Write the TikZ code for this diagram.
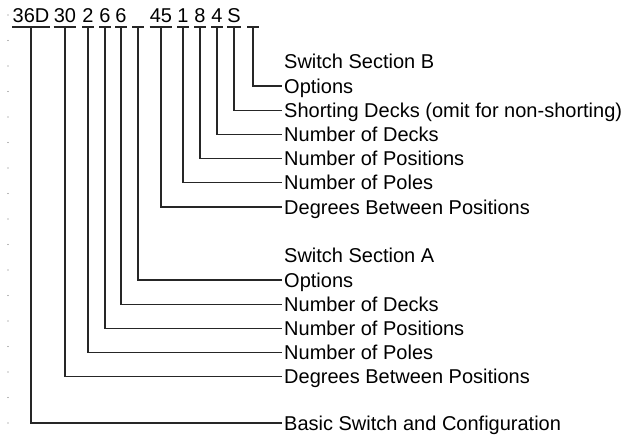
\documentclass[tikz,border=0pt]{standalone}
\usepackage{fontspec}
\setmainfont{Liberation Sans}
\begin{document}
\begin{tikzpicture}[x=1pt,y=-1pt,
	font=\fontsize{20}{24}\selectfont,
	code/.style={anchor=south, inner xsep=0pt, inner ysep=4pt, text height=14.3pt, text depth=0pt},
	txt/.style={anchor=west, inner xsep=2pt, inner ysep=0pt, text height=14.3pt, text depth=0pt},
	wire/.style={line width=1.3pt, draw=black!85}]
	\useasboundingbox (0,0) rectangle (621,434);
	% margin ticks
	\foreach \k in {0,...,16}
		\fill[black!55] (8,15+25.5*\k) circle (0.6);
	% part number
	\node[code] (CA) at (31,27) {36D};
	\node[code] (CB) at (65,27) {30};
	\node[code] (CC) at (88,27) {2};
	\node[code] (CD) at (105,27) {6};
	\node[code] (CE) at (121,27) {6};
	\node[code] (CF) at (138,27) {\phantom{0}};
	\node[code] (CG) at (161,27) {45};
	\node[code] (CH) at (183,27) {1};
	\node[code] (CI) at (200,27) {8};
	\node[code] (CJ) at (217,27) {4};
	\node[code] (CK) at (234,27) {S};
	\node[code] (CL) at (253,27) {\phantom{0}};
	% section B
	\node[txt] (HB) at (282,61.5) {Switch Section B};
	\node[txt] (LL) at (282,86) {Options};
	\node[txt] (LK) at (282,110.2) {Shorting Decks (omit for non-shorting)};
	\node[txt] (LJ) at (282,134.4) {Number of Decks};
	\node[txt] (LI) at (282,158.6) {Number of Positions};
	\node[txt] (LH) at (282,182.8) {Number of Poles};
	\node[txt] (LG) at (282,207) {Degrees Between Positions};
	% section A
	\node[txt] (HA) at (282,255) {Switch Section A};
	\node[txt] (LF) at (282,280) {Options};
	\node[txt] (LE) at (282,304.2) {Number of Decks};
	\node[txt] (LD) at (282,328.4) {Number of Positions};
	\node[txt] (LC) at (282,352.6) {Number of Poles};
	\node[txt] (LB) at (282,376.8) {Degrees Between Positions};
	\node[txt] (LA) at (282,423) {Basic Switch and Configuration};
	
	\draw[wire] (CA.south west)--(CA.south east);
	\draw[wire] (CB.south west)--(CB.south east);
	\draw[wire] (CC.south west)--(CC.south east);
	\draw[wire] (CD.south west)--(CD.south east);
	\draw[wire] (CE.south west)--(CE.south east);
	\draw[wire] (CF.south west)--(CF.south east);
	\draw[wire] (CG.south west)--(CG.south east);
	\draw[wire] (CH.south west)--(CH.south east);
	\draw[wire] (CI.south west)--(CI.south east);
	\draw[wire] (CJ.south west)--(CJ.south east);
	\draw[wire] (CK.south west)--(CK.south east);
	\draw[wire] (CL.south west)--(CL.south east);
	
	\draw[wire] (CA.south) |- (LA.west);
	\draw[wire] (CB.south) |- (LB.west);
	\draw[wire] (CC.south) |- (LC.west);
	\draw[wire] (CD.south) |- (LD.west);
	\draw[wire] (CE.south) |- (LE.west);
	\draw[wire] (CF.south) |- (LF.west);
	\draw[wire] (CG.south) |- (LG.west);
	\draw[wire] (CH.south) |- (LH.west);
	\draw[wire] (CI.south) |- (LI.west);
	\draw[wire] (CJ.south) |- (LJ.west);
	\draw[wire] (CK.south) |- (LK.west);
	\draw[wire] (CL.south) |- (LL.west);
\end{tikzpicture}
\end{document}
